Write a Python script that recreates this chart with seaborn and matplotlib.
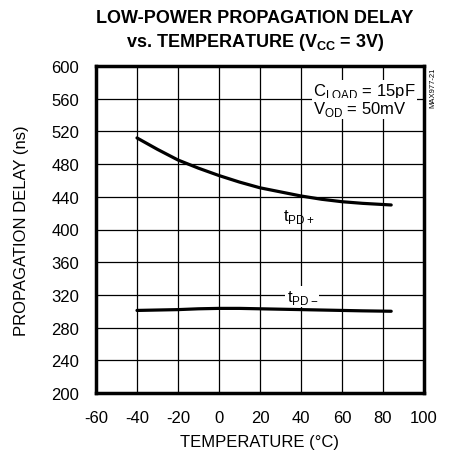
import matplotlib
matplotlib.use("Agg")
import matplotlib.pyplot as plt
import seaborn as sns
import pandas as pd

# data
temp = [-40, -30, -20, -10, 0, 10, 20, 30, 40, 50, 60, 70, 84]
tpd_plus = [512, 498, 485, 475, 466, 458, 451, 446, 441, 437, 434, 432, 430]
tpd_minus = [301, 301.5, 302, 303, 303.5, 303.5, 303, 302.5, 302, 301.5, 301, 300.5, 300]

xticks = [-60, -40, -20, 0, 20, 40, 60, 80, 100]
yticks = [200, 240, 280, 320, 360, 400, 440, 480, 520, 560, 600]

sns.set_style("white")
plt.rcParams["font.family"] = ["Liberation Sans", "DejaVu Sans"]
plt.rcParams["text.color"] = "black"
plt.rcParams["axes.labelcolor"] = "black"
plt.rcParams["xtick.color"] = "black"
plt.rcParams["ytick.color"] = "black"
plt.rcParams["mathtext.fontset"] = "custom"
plt.rcParams["mathtext.rm"] = "Liberation Sans"
plt.rcParams["mathtext.bf"] = "Liberation Sans:bold"

df = pd.DataFrame({"temp": temp + temp,
                   "delay": tpd_plus + tpd_minus,
                   "edge": ["plus"] * len(temp) + ["minus"] * len(temp)})

fig = plt.figure(figsize=(4.53, 4.60), dpi=100)
ax = fig.add_axes([96 / 453, 1 - 394 / 460, 328 / 453, 327 / 460])

for e in ["plus", "minus"]:
    sub = df[df["edge"] == e]
    sns.lineplot(data=sub, x="temp", y="delay", ax=ax, color="black",
                 linewidth=2.3, legend=False, zorder=3)

ax.set_xlim(-60, 100)
ax.set_ylim(200, 600)
ax.set_xticks(xticks)
ax.set_yticks(yticks)
ax.set_xticklabels([str(t) for t in xticks], fontsize=12)
ax.set_yticklabels([str(t) for t in yticks], fontsize=12)
ax.tick_params(axis="y", length=0, pad=12)
ax.tick_params(axis="x", length=0, pad=12)
ax.grid(True, color="black", linewidth=0.9)
for s in ax.spines.values():
    s.set_linewidth(2.5)
    s.set_color("black")

ax.set_xlabel("TEMPERATURE (°C)", fontsize=12, labelpad=7)
ax.set_ylabel("PROPAGATION DELAY (ns)", fontsize=12, labelpad=16)

fig.text(0.563, 0.978, "LOW-POWER PROPAGATION DELAY", ha="center", va="top",
         fontsize=13, fontweight="bold")
fig.text(0.563, 0.93, r"vs. TEMPERATURE (V$_{\mathbf{CC}}$ = 3V)", ha="center", va="top",
         fontsize=13, fontweight="bold")

bbox = dict(facecolor="white", edgecolor="none", pad=1)
ax.text(46, 570, r"C$_{\mathrm{LOAD}}$ = 15pF", fontsize=12, va="center", bbox=bbox, zorder=4)
ax.text(46, 548, r"V$_{\mathrm{OD}}$ = 50mV", fontsize=12, va="center", bbox=bbox, zorder=4)
ax.text(31, 416, r"t$_{\mathrm{PD+}}$", fontsize=12, va="center", zorder=4)
ax.text(33, 318, r"t$_{\mathrm{PD-}}$", fontsize=12, va="center", bbox=bbox, zorder=4)

fig.text(0.955, 0.81, "MAX977-21", rotation=90, fontsize=5.5, ha="center", va="center")

fig.savefig("out.png", dpi=100)
